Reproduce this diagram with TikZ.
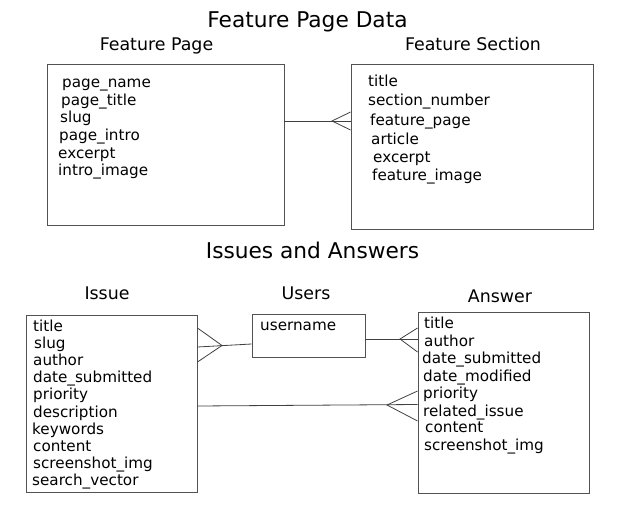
\documentclass[tikz,border=0pt]{standalone}
\usepackage{fontspec}
\setmainfont{DejaVu Sans}
\begin{document}
\begin{tikzpicture}[x=1pt,y=-1pt,
  ent/.style={draw=black!68, line width=0.9pt, inner sep=0pt},
  conn/.style={draw=black!75, line width=0.8pt},
  attr/.style={anchor=base west, inner sep=0pt, font=\fontsize{15.2}{18}\selectfont},
  head/.style={anchor=base, inner sep=0pt, font=\fontsize{21.7}{26}\selectfont},
  sub/.style={anchor=base, inner sep=0pt, font=\fontsize{17.4}{21}\selectfont}]
\useasboundingbox (0,0) rectangle (624,522);
% headings
\node[head] (h1) at (307.5,27.5) {Feature Page Data};
\node[head] (h2) at (312.5,258) {Issues and Answers};
\node[sub] (t1) at (156.5,50) {Feature Page};
\node[sub] (t2) at (473,50) {Feature Section};
\node[sub] (t3) at (107,299) {Issue};
\node[sub] (t4) at (306,299) {Users};
\node[sub] (t5) at (500,302) {Answer};
% boxes
\node[ent, minimum width=237pt, minimum height=161pt] (fp) at (165.5,144.5) {};
\node[ent, minimum width=242pt, minimum height=165pt] (fs) at (472,146.5) {};
\node[ent, minimum width=171pt, minimum height=177pt] (is) at (111.5,403.5) {};
\node[ent, minimum width=113pt, minimum height=43pt] (us) at (308.5,335.5) {};
\node[ent, minimum width=171pt, minimum height=181pt] (an) at (503.5,402.5) {};
% Feature Page attributes
\node[attr] (fp1) at (62,87.5) {page\_name};
\node[attr] (fp2) at (61,105.5) {page\_title};
\node[attr] (fp3) at (60,122.5) {slug};
\node[attr] (fp4) at (59,140.5) {page\_intro};
\node[attr] (fp5) at (58,158.5) {excerpt};
\node[attr] (fp6) at (58,175.5) {intro\_image};
% Feature Section attributes
\node[attr] (fs1) at (368,86.5) {title};
\node[attr] (fs2) at (368,105.5) {section\_number};
\node[attr] (fs3) at (370,125.5) {feature\_page};
\node[attr] (fs4) at (371,144.5) {article};
\node[attr] (fs5) at (373,162.5) {excerpt};
\node[attr] (fs6) at (372,180.5) {feature\_image};
% Issue attributes
\node[attr] (is1) at (33,331.5) {title};
\node[attr] (is2) at (34,348.6) {slug};
\node[attr] (is3) at (33,365.7) {author};
\node[attr] (is4) at (33,382.8) {date\_submitted};
\node[attr] (is5) at (33,399.9) {priority};
\node[attr] (is6) at (33,417) {description};
\node[attr] (is7) at (32,434.1) {keywords};
\node[attr] (is8) at (33,451.2) {content};
\node[attr] (is9) at (33,468.3) {screenshot\_img};
\node[attr] (is10) at (32,485.4) {search\_vector};
% Users attributes
\node[attr] (us1) at (260,330) {username};
% Answer attributes
\node[attr] (an1) at (424,328.5) {title};
\node[attr] (an2) at (424,346.5) {author};
\node[attr] (an3) at (422,363.5) {date\_submitted};
\node[attr] (an4) at (423,381.5) {date\_modified};
\node[attr] (an5) at (423,398.5) {priority};
\node[attr] (an6) at (423,416.5) {related\_issue};
\node[attr] (an7) at (425,432.5) {content};
\node[attr] (an8) at (424,450.5) {screenshot\_img};
% connector: Feature Page -> Feature Section (many)
\coordinate (a1) at (fp.east |- 0,121);
\coordinate (a2) at (fs.west |- 0,121);
\coordinate (a3) at (332,121);
\coordinate (a4) at (fs.west |- 0,112);
\coordinate (a5) at (fs.west |- 0,130);
\draw[conn] (a1) -- (a2);
\draw[conn] (a4) -- (a3) -- (a5);
% connector: Users -> Issue (many at Issue)
\coordinate (b1) at (is.east |- 0,347);
\coordinate (b2) at (us.west |- 0,344);
\coordinate (b3) at (222,345.5);
\coordinate (b4) at (is.east |- 0,328);
\coordinate (b5) at (is.east |- 0,362);
\draw[conn] (b1) -- (b2);
\draw[conn] (b4) -- (b3) -- (b5);
% connector: Users -> Answer (many at Answer)
\coordinate (c1) at (us.east |- 0,339);
\coordinate (c2) at (an.west |- 0,339);
\coordinate (c3) at (400,339);
\coordinate (c4) at (an.west |- 0,328);
\coordinate (c5) at (an.west |- 0,352);
\draw[conn] (c1) -- (c2);
\draw[conn] (c4) -- (c3) -- (c5);
% connector: Issue -> Answer (many at Answer)
\coordinate (d1) at (is.east |- 0,406);
\coordinate (d2) at (an.west |- 0,404.5);
\coordinate (d3) at (387,405);
\coordinate (d4) at (an.west |- 0,391);
\coordinate (d5) at (an.west |- 0,421);
\draw[conn] (d1) -- (d2);
\draw[conn] (d4) -- (d3) -- (d5);
\end{tikzpicture}
\end{document}
